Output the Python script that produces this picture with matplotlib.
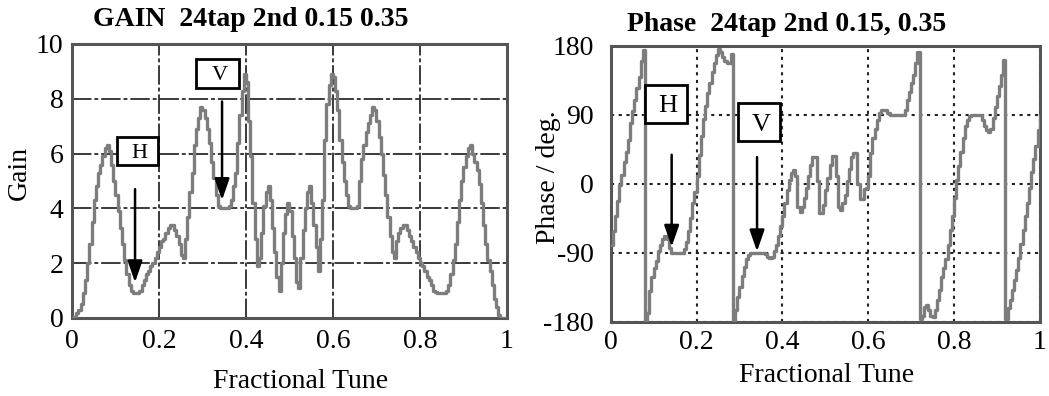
import numpy as np
import matplotlib
matplotlib.use("Agg")
import matplotlib.pyplot as plt
from matplotlib.patches import Rectangle
from matplotlib.ticker import FixedLocator, FixedFormatter

plt.rcParams['font.family'] = ['Liberation Serif', 'DejaVu Serif']
plt.rcParams['axes.unicode_minus'] = False

# fractional tune sampling (step 0.005)
tune = np.linspace(0, 1, 201)

# gain
gain = [0.0, 0.05, 0.2, 0.3, 0.5, 0.9, 1.4, 2.0, 2.7, 3.5,
        4.3, 4.8, 5.3, 5.6, 5.9, 6.2, 6.3, 6.1, 5.6, 5.0,
        4.5, 3.9, 3.3, 2.7, 2.1, 1.6, 1.2, 1.0, 0.9, 0.9,
        0.9, 1.0, 1.2, 1.4, 1.6, 1.7, 1.9, 2.0, 2.2, 2.4,
        2.6, 2.8, 2.9, 3.1, 3.3, 3.4, 3.4, 3.2, 3.0, 2.7,
        2.3, 2.2, 2.9, 3.7, 4.6, 5.3, 6.3, 6.9, 7.3, 7.7,
        7.6, 7.3, 6.9, 6.4, 5.7, 5.1, 4.5, 4.1, 4.0, 4.0,
        4.0, 4.0, 4.1, 4.3, 4.8, 5.3, 6.4, 7.4, 8.3, 8.9,
        8.6, 7.2, 5.9, 4.2, 2.9, 1.9, 2.2, 3.1, 4.1, 4.6,
        4.8, 4.3, 3.3, 2.4, 1.5, 1.0, 2.0, 3.1, 3.8, 4.2,
        3.9, 3.0, 2.2, 1.3, 1.1, 2.2, 3.2, 4.0, 4.6, 4.8,
        4.2, 3.4, 2.6, 1.7, 2.9, 4.3, 6.5, 7.8, 8.5, 8.9,
        8.8, 8.3, 7.6, 6.5, 5.7, 5.0, 4.5, 4.1, 4.0, 4.0,
        4.0, 4.1, 5.0, 5.8, 6.3, 6.8, 7.1, 7.4, 7.7, 7.6,
        7.2, 6.6, 6.0, 5.2, 4.5, 3.7, 3.0, 2.4, 2.2, 2.8,
        3.1, 3.3, 3.4, 3.4, 3.2, 3.0, 2.8, 2.6, 2.4, 2.2,
        2.0, 1.9, 1.7, 1.5, 1.4, 1.2, 1.0, 0.95, 0.9, 0.9,
        0.9, 0.9, 1.0, 1.2, 1.6, 2.1, 2.7, 3.5, 4.3, 5.0,
        5.5, 5.9, 6.2, 6.3, 6.0, 5.7, 5.4, 4.9, 4.2, 3.4,
        2.7, 2.1, 1.7, 1.2, 0.7, 0.4, 0.1, 0.0, 0.0, 0.0,
        0.0]

# phase (deg)
phase = [-80, -62, -42, -22, -2, 12, 28, 42, 57, 80,
         95, 110, 125, 140, 160, 175, -178, -168, -140, -121,
         -110, -100, -88, -80, -72, -68, -72, -84, -90, -90,
         -90, -90, -90, -90, -85, -76, -62, -45, -25, -10,
         10, 38, 62, 85, 102, 118, 132, 146, 158, 168,
         176, 172, 165, 160, 158, 158, 170, -178, -164, -148,
         -134, -120, -108, -98, -93, -90, -90, -90, -90, -90,
         -90, -90, -92, -95, -97, -95, -88, -80, -68, -55,
         -42, -25, -8, 5, 14, 18, 10, -30, -36, -30,
         -18, -5, 10, 25, 35, 35, 4, -38, -38, -28,
         -8, 8, 25, 36, 37, 10, -30, -34, -25, -15,
         4, 20, 35, 40, 40, 0, -20, -20, -6, -5,
         10, 40, 60, 72, 84, 92, 97, 97, 97, 93,
         90, 90, 90, 90, 90, 90, 90, 97, 110, 120,
         132, 142, 158, 172, -176, -172, -160, -158, -165, -172,
         -174, -165, -152, -138, -121, -110, -98, -80, -60, -42,
         -18, 5, 24, 42, 60, 76, 84, 88, 90, 90,
         90, 90, 90, 84, 76, 70, 68, 72, 86, 100,
         115, 128, 142, 162, -176, -162, -152, -138, -125, -112,
         -96, -78, -60, -42, -25, -5, 15, 32, 50, 70,
         88]

xticks = [0, 0.2, 0.4, 0.6, 0.8, 1]
xtick_labels = ['0', '0.2', '0.4', '0.6', '0.8', '1']
gain_ticks = [0, 2, 4, 6, 8, 10]
phase_ticks = [-180, -90, 0, 90, 180]

line_col = '#7d7d7d'
frame_col = '#555555'
fs = 20

fig = plt.figure(figsize=(10.49, 3.96), dpi=100)
ax1 = fig.add_axes([0.0686, 0.197, 0.4147, 0.692])
ax2 = fig.add_axes([0.5822, 0.187, 0.4090, 0.697])

# ---- gain panel
ax1.plot(tune, gain, drawstyle='steps-post', color=line_col, lw=2.4, zorder=3)
ax1.set_xlim(0, 1)
ax1.set_ylim(0, 10)
ax1.xaxis.set_major_locator(FixedLocator(xticks))
ax1.xaxis.set_major_formatter(FixedFormatter(xtick_labels))
ax1.set_yticks(gain_ticks)
ax1.grid(True, color='#3a3a3a', lw=1.4, linestyle=(0, (10, 1.5, 2, 1.5)))
ax1.set_ylabel('Gain', fontsize=fs, va='center')
ax1.yaxis.set_label_coords(-0.12, 0.53)
ax1.set_xlabel('Fractional Tune', fontsize=fs, va='baseline')
ax1.xaxis.set_label_coords(0.526, -0.255)
ax1.tick_params(axis='y', pad=6)
ax1.tick_params(axis='x', pad=8)

# ---- phase panel
ax2.plot(tune, phase, drawstyle='steps-post', color=line_col, lw=2.4, zorder=3)
ax2.set_xlim(0, 1)
ax2.set_ylim(-180, 180)
ax2.xaxis.set_major_locator(FixedLocator(xticks))
ax2.xaxis.set_major_formatter(FixedFormatter(xtick_labels))
ax2.set_yticks(phase_ticks)
ax2.grid(True, color='#222222', lw=1.5, linestyle=(0, (1.5, 2.2)))
ax2.set_ylabel('Phase / deg.', fontsize=fs, va='center')
ax2.yaxis.set_label_coords(-0.146, 0.525)
ax2.set_xlabel('Fractional Tune', fontsize=fs, va='baseline')
ax2.xaxis.set_label_coords(0.504, -0.217)
ax2.tick_params(axis='y', pad=12)
ax2.tick_params(axis='x', pad=6)

for ax in (ax1, ax2):
    ax.set_axisbelow(True)
    for s in ax.spines.values():
        s.set_color(frame_col)
        s.set_linewidth(2.2)
    ax.tick_params(length=0, labelsize=fs)

fig.text(0.239, 0.934, 'GAIN  24tap 2nd 0.15 0.35', fontsize=fs,
         fontweight='bold', ha='center', va='baseline')
fig.text(0.750, 0.922, 'Phase  24tap 2nd 0.15, 0.35', fontsize=fs,
         fontweight='bold', ha='center', va='baseline')

arrow = dict(arrowstyle='-|>,head_length=1.3,head_width=0.45', color='black',
             lw=1.8, shrinkA=0, shrinkB=0)


def label_box(ax, x0, x1, y0, y1, txt, size):
    ax.add_patch(Rectangle((x0, y0), x1 - x0, y1 - y0, fc='white', ec='black',
                           lw=2, zorder=5))
    ax.text((x0 + x1) / 2 + 0.005, (y0 + y1) / 2, txt, fontsize=size,
            ha='center', va='center_baseline', zorder=6)


# annotations on gain panel
label_box(ax1, 0.103, 0.198, 5.6, 6.6, 'H', 16)
ax1.annotate('', xy=(0.145, 1.3), xytext=(0.145, 4.7), arrowprops=arrow, zorder=5)
label_box(ax1, 0.285, 0.384, 8.4, 9.45, 'V', 16)
ax1.annotate('', xy=(0.345, 4.3), xytext=(0.345, 7.9), arrowprops=arrow, zorder=5)

# annotations on phase panel
label_box(ax2, 0.08, 0.178, 80, 129, 'H', 19)
ax2.annotate('', xy=(0.142, -82), xytext=(0.142, 38), arrowprops=arrow, zorder=5)
label_box(ax2, 0.297, 0.395, 56, 105, 'V', 19)
ax2.annotate('', xy=(0.341, -88), xytext=(0.341, 35), arrowprops=arrow, zorder=5)

fig.savefig('out.png', dpi=100)
